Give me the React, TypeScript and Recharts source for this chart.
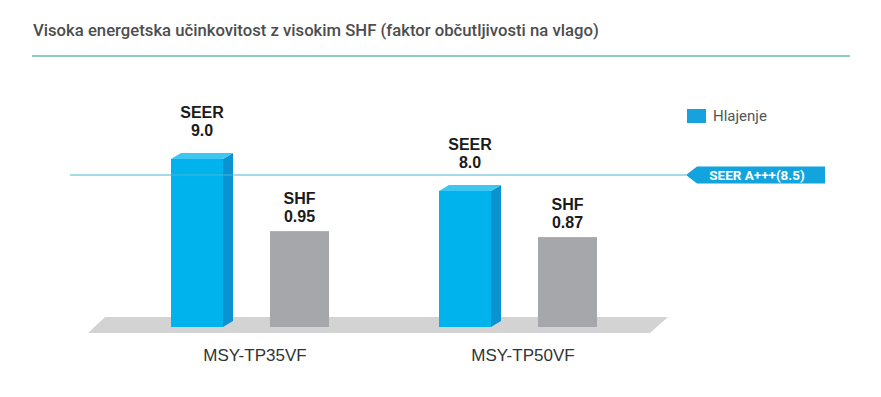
import React from 'react';
import { BarChart, Bar, XAxis, YAxis, ReferenceLine, ReferenceArea, Legend } from 'recharts';

// Values
const models = ['MSY-TP35VF', 'MSY-TP50VF'];
const seerValues = [9.0, 8.0];
const shfValues = [0.95, 0.87];
const seerClassLimit = 8.5;
const seerClassLabel = 'SEER A+++(8.5)';
const legendLabel = 'Hlajenje';
const title = 'Visoka energetska učinkovitost z visokim SHF (faktor občutljivosti na vlago)';

const data = models.map((name, i) => ({ name, seer: seerValues[i], shf: shfValues[i] }));

const BLUE = '#00b3ed';
const BLUE_SIDE = '#0a93d0';
const BLUE_TOP = '#3ec6f2';
const GRAY = '#a6a7ab';
const FLOOR = '#d3d3d3';
const TAG = '#12a4de';
const LINE = '#4ab5d5';

const baseOf = (p: any) =>
  p.background && p.background.height ? p.background.y + p.background.height : p.y + p.height;

const SeerBar = (p: any) => {
  const { x, y, width } = p;
  const bottom = baseOf(p);
  const d = 10;
  const dy = 6;
  const fw = width - d;
  return (
    <g>
      <rect x={x} y={y} width={fw} height={bottom - y} fill={BLUE} />
      <polygon
        points={`${x + fw},${y} ${x + width},${y - dy} ${x + width},${bottom - dy} ${x + fw},${bottom}`}
        fill={BLUE_SIDE}
      />
      <polygon points={`${x},${y} ${x + d},${y - dy} ${x + width},${y - dy} ${x + fw},${y}`} fill={BLUE_TOP} />
    </g>
  );
};

const ShfBar = (p: any) => {
  const { x, y, width } = p;
  const bottom = baseOf(p);
  return <rect x={x + 1} y={y} width={width - 3} height={bottom - y} fill={GRAY} />;
};

const labelStyle = { fontFamily: '"Liberation Sans", Arial, sans-serif', fontWeight: 700, fontSize: 16, fill: '#1b1b1b' };

const seerLabel = (p: any) => {
  const cx = p.x + p.width / 2;
  return (
    <g>
      <text x={cx} y={p.y - 41} textAnchor="middle" style={labelStyle}>SEER</text>
      <text x={cx} y={p.y - 23} textAnchor="middle" style={labelStyle}>{Number(p.value).toFixed(1)}</text>
    </g>
  );
};

const shfLabel = (p: any) => {
  const cx = p.x + p.width / 2 - 0.5;
  return (
    <g>
      <text x={cx} y={p.y - 27} textAnchor="middle" style={labelStyle}>SHF</text>
      <text x={cx} y={p.y - 9} textAnchor="middle" style={labelStyle}>{Number(p.value).toFixed(2)}</text>
    </g>
  );
};

const Floor = (p: any) => {
  const { x, y, width, height } = p;
  const b = y + height + 6;
  return (
    <polygon
      points={`${x - 12},${y} ${x + width + 15},${y} ${x + width - 3},${b} ${x - 29},${b}`}
      fill={FLOOR}
    />
  );
};

const ClassTag = (p: any) => {
  const vb = p.viewBox || {};
  const x = vb.x + vb.width;
  const y = vb.y;
  return (
    <g>
      <polygon
        points={`${x},${y} ${x + 11},${y - 8.5} ${x + 139},${y - 8.5} ${x + 139},${y + 8.5} ${x + 11},${y + 8.5}`}
        fill={TAG}
      />
      <text
        x={x + 71}
        y={y + 4.5}
        textAnchor="middle"
        style={{ fontFamily: 'Roboto, sans-serif', fontWeight: 700, fontSize: 13.5, fill: '#fff' }}
      >
        {seerClassLabel}
      </text>
    </g>
  );
};

const ModelTick = (p: any) => (
  <text
    x={p.x + 4}
    y={p.y + 26}
    textAnchor="middle"
    style={{ fontFamily: '"Liberation Sans", Arial, sans-serif', fontSize: 17, fill: '#333' }}
  >
    {p.payload.value}
  </text>
);

const renderLegend = (props: any) => {
  const items = (props.payload || []).filter((e: any) => e.dataKey === 'seer');
  return (
    <div>
      {items.map((e: any) => (
        <div key={e.value} style={{ display: 'flex', alignItems: 'center' }}>
          <span style={{ display: 'inline-block', width: 19, height: 14, background: '#16a2de', marginRight: 7 }} />
          <span style={{ fontFamily: 'Roboto, sans-serif', fontSize: 15, color: '#555' }}>{legendLabel}</span>
        </div>
      ))}
    </div>
  );
};

export default function App() {
  return (
    <div style={{ position: 'absolute', left: 0, top: 0, width: 881, height: 397, background: '#fff' }}>
      <div
        style={{
          position: 'absolute',
          left: 33,
          top: 21,
          fontFamily: 'Roboto, sans-serif',
          fontWeight: 500,
          fontSize: 16.7,
          color: '#4d4d4d',
          whiteSpace: 'nowrap',
        }}
      >
        {title}
      </div>
      <div style={{ position: 'absolute', left: 32, top: 55, width: 818, height: 2, background: '#8fcbc8' }} />
      <div style={{ position: 'absolute', left: 0, top: 0 }}>
        <BarChart
          width={881}
          height={397}
          data={data}
          margin={{ top: 127, right: 195, bottom: 40, left: 70 }}
          barSize={62}
          barGap={36}
        >
          <XAxis
            dataKey="name"
            height={30}
            axisLine={false}
            tickLine={false}
            padding={{ left: 47, right: 33 }}
            tick={<ModelTick />}
            interval={0}
          />
          <YAxis yAxisId="seer" hide domain={[3.75, 10]} />
          <YAxis yAxisId="shf" hide domain={[-0.33, 2.34]} />
          <ReferenceArea yAxisId="seer" y1={3.75} y2={4.06} shape={<Floor />} ifOverflow="visible" />
          <ReferenceLine yAxisId="seer" y={seerClassLimit} stroke={LINE} strokeWidth={1.2} label={<ClassTag />} />
          <Legend
            verticalAlign="middle"
            align="center"
            content={renderLegend}
            wrapperStyle={{ position: 'absolute', left: 687, top: 107, width: 'auto' }}
          />
          <Bar
            yAxisId="seer"
            dataKey="seer"
            name={legendLabel}
            fill="#16a2de"
            shape={<SeerBar />}
            label={seerLabel}
            isAnimationActive={false}
          />
          <Bar yAxisId="shf" dataKey="shf" name="SHF" fill={GRAY} shape={<ShfBar />} label={shfLabel} isAnimationActive={false} />
        </BarChart>
      </div>
    </div>
  );
}
